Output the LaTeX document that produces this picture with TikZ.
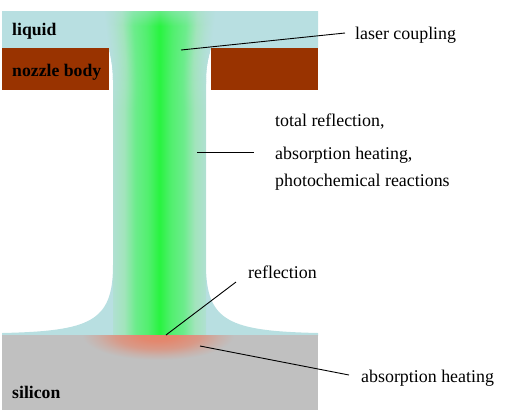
\documentclass[tikz,border=0pt]{standalone}
\usepackage{fontspec}
\setmainfont{Liberation Serif}
\usetikzlibrary{fadings}
\definecolor{fluid}{HTML}{B8DFE1}
\definecolor{nozzle}{HTML}{993300}
\definecolor{wafer}{HTML}{C0C0C0}
\definecolor{heat}{HTML}{E5856A}
\definecolor{core}{HTML}{28F440}
\definecolor{midgreen}{HTML}{6CEC8C}
\definecolor{palegreen}{HTML}{A2E4BC}
\definecolor{rim}{HTML}{B0E0D2}
% Beam profile across the jet: the 25bp to 75bp span covers the shaded path's width
\pgfdeclarehorizontalshading{jetbeam}{100bp}{
  color(0bp)=(rim); color(25bp)=(rim); color(31bp)=(palegreen); color(37bp)=(midgreen);
  color(44bp)=(midgreen!60!core); color(50bp)=(core); color(56bp)=(midgreen!60!core);
  color(63bp)=(midgreen); color(69bp)=(palegreen); color(75bp)=(rim); color(100bp)=(rim)}
% Same profile, with its rim melting into the surrounding liquid
\pgfdeclarehorizontalshading{inletbeam}{100bp}{
  color(0bp)=(fluid); color(25bp)=(fluid); color(29bp)=(rim); color(33bp)=(palegreen); color(38bp)=(midgreen);
  color(44bp)=(midgreen!60!core); color(50bp)=(core); color(56bp)=(midgreen!60!core);
  color(62bp)=(midgreen); color(67bp)=(palegreen); color(71bp)=(rim); color(75bp)=(fluid); color(100bp)=(fluid)}
\pgfdeclareradialshading{heatspot}{\pgfpoint{0bp}{0bp}}{
  color(0bp)=(heat); color(6bp)=(heat!95!wafer); color(14bp)=(heat!65!wafer); color(20bp)=(heat!25!wafer); color(25bp)=(wafer); color(50bp)=(wafer)}
\tikzset{
  px/.style={x=1pt,y=-1pt},
  label text/.style={anchor=base west,inner sep=0pt,font=\fontsize{17.9}{20}\selectfont,text=black},
  part name/.style={label text,font=\fontsize{17.7}{20}\selectfont\bfseries},
  leader/.style={draw=black,line width=0.9pt}
}
\begin{document}
\begin{tikzpicture}[px]
\useasboundingbox (0,0) rectangle (511,416);

% Liquid in the inlet, the nozzle channel and the spreading film
\def\fluidpath{(2,11) -- (318,11) -- (318,48) -- (211,48)
  .. controls (208,58) and (206,68) .. (206,80) -- (206,265)
  .. controls (206,322) and (230,331) .. (318,333)
  -- (318,336) -- (2,336) -- (2,333)
  .. controls (90,331) and (113,322) .. (113,265) -- (113,80)
  .. controls (113,68) and (111,58) .. (109,48) -- (2,48) -- cycle}
\fill[fluid] \fluidpath;

% Guided laser light, slightly wider at the inlet than in the jet
\begin{scope}
  \clip \fluidpath;
  \foreach \y in {11,13,...,109}{
    \pgfmathsetmacro{\halfw}{56-min(\y-11,79)/79*9.5}
    \path[shading=inletbeam] ({159.5-\halfw},\y) rectangle ({159.5+\halfw},\y+2.6);
  }
  \path[shading=jetbeam,path fading=north] (113,50) rectangle (206,111);
  \path[shading=jetbeam] (113,110) rectangle (206,335);
  \fill[fluid,path fading=south,opacity=0.4] (100,11) rectangle (220,26);
\end{scope}

% Nozzle body on both sides of the channel
\fill[nozzle] (2,48) rectangle (109,90);
\fill[nozzle] (211,48) rectangle (318,90);

% Silicon substrate with the absorption spot under the jet
\fill[wafer] (2,335) rectangle (318,410);
\begin{scope}
  \clip (2,335) rectangle (318,410);
  \path[shading=heatspot] (158,335) ellipse [x radius=76,y radius=25];
\end{scope}

% Part names
\node[part name] (liquid) at (12,35) {liquid};
\node[part name] (body) at (12,76) {nozzle body};
\node[part name] (silicon) at (12,398) {silicon};

% Callouts
\node[label text] (coupling) at (355,39) {laser coupling};
\node[label text] (total) at (275,126) {total reflection,};
\node[label text] (absorb) at (275,159) {absorption heating,};
\node[label text] (photo) at (275,186) {photochemical reactions};
\node[label text] (reflect) at (248,278) {reflection};
\node[label text] (heating) at (361,382) {absorption heating};

% Leader lines
\coordinate (couplingtip) at (181,50);
\coordinate (couplingend) at (345,33);
\coordinate (walltip) at (197,152);
\coordinate (wallend) at (254,152);
\coordinate (reflecttip) at (166,335);
\coordinate (reflectend) at (236,282);
\coordinate (heattip) at (200,346);
\coordinate (heatend) at (349,375);
\draw[leader] (couplingtip) -- (couplingend);
\draw[leader] (walltip) -- (wallend);
\draw[leader] (reflecttip) -- (reflectend);
\draw[leader] (heattip) -- (heatend);
\end{tikzpicture}
\end{document}
